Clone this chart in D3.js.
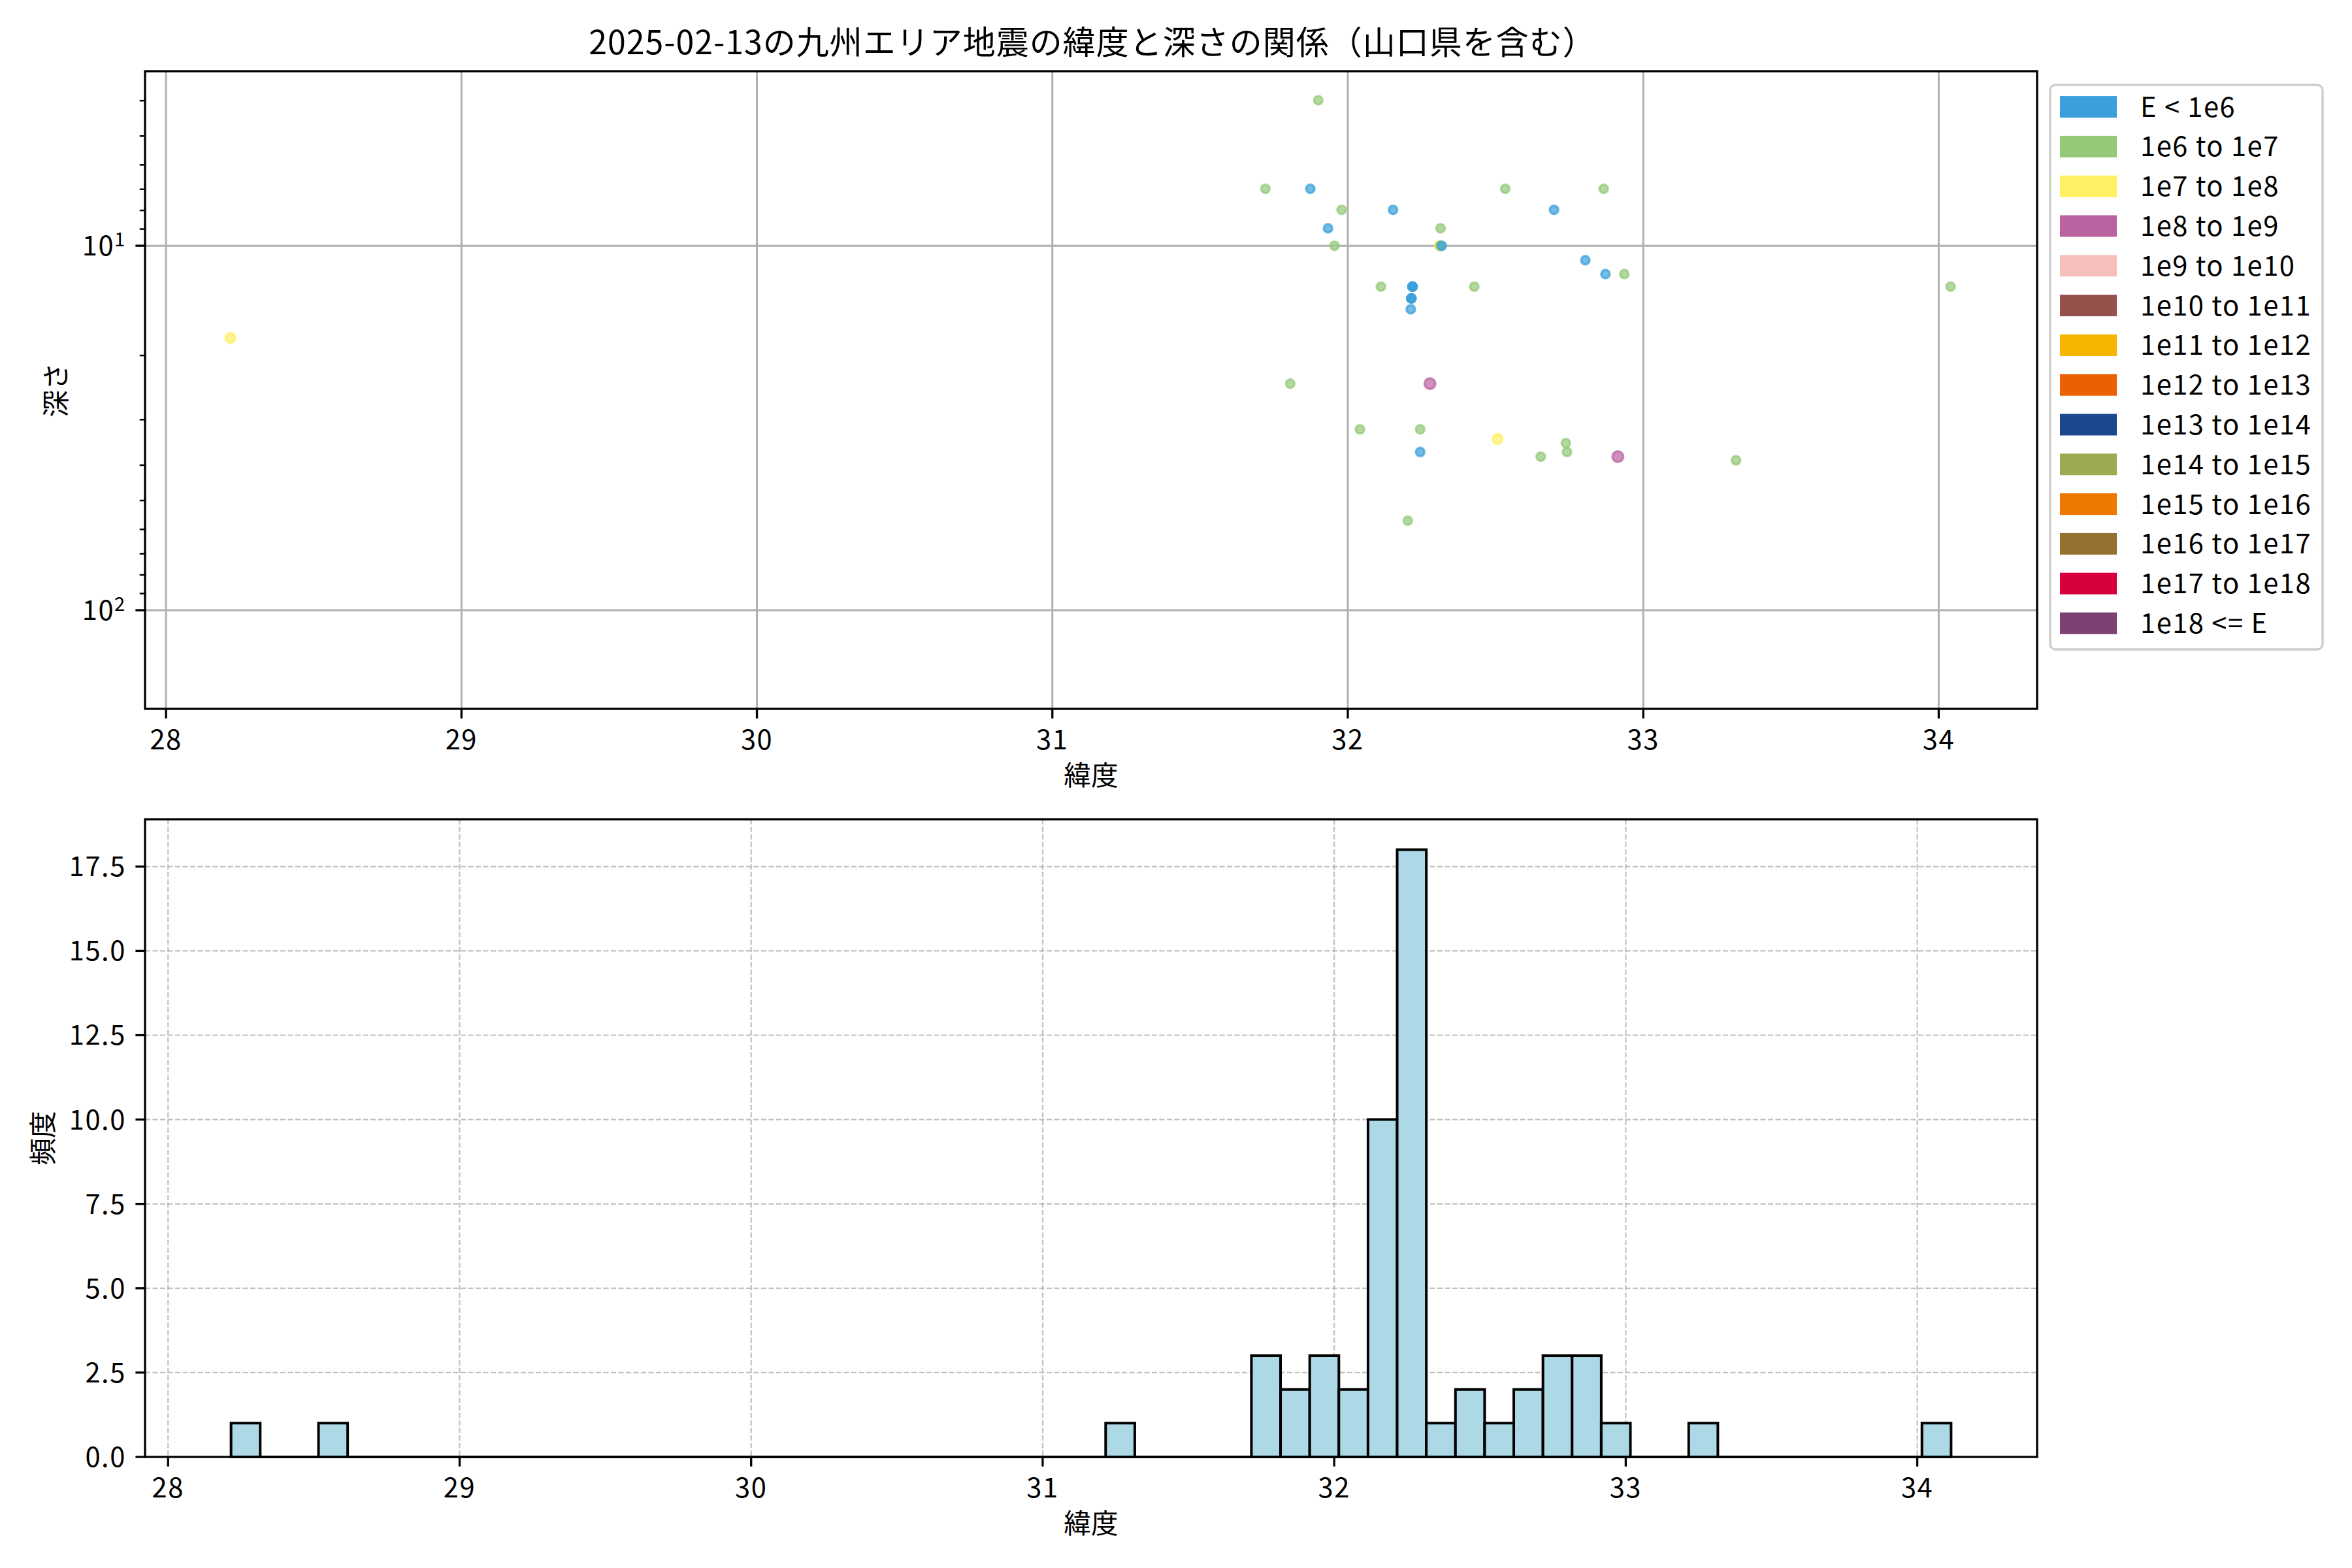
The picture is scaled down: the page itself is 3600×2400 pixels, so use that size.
<!DOCTYPE html>
<html><head><meta charset="utf-8">
<script src="https://cdn.jsdelivr.net/npm/d3@7"></script>
<style>
body{margin:0;background:#fff}
text{font-family:"Noto Sans CJK JP","Noto Sans",sans-serif;fill:#000}
</style>
</head><body>
<svg id="chart" width="3600" height="2400" xmlns="http://www.w3.org/2000/svg"></svg>
<script>
// ---------------- data ----------------
const titleText = "2025-02-13の九州エリア地震の緯度と深さの関係（山口県を含む）";
const xLabelText = "緯度";
const depthLabelText = "深さ";
const freqLabelText = "頻度";

const energyLabels = ["E < 1e6","1e6 to 1e7","1e7 to 1e8","1e8 to 1e9","1e9 to 1e10","1e10 to 1e11",
  "1e11 to 1e12","1e12 to 1e13","1e13 to 1e14","1e14 to 1e15","1e15 to 1e16","1e16 to 1e17",
  "1e17 to 1e18","1e18 <= E"];
const energyColors = ["#3A9FDA","#93C977","#FFF064","#BB62A0","#F6BFBC","#95514C",
  "#F6B500","#EB6000","#1B478F","#9BAC50","#EE7800","#95702E","#D7003A","#7A4171"];

// scatter: latitude, depth (km), energy class index
const quakeLat = [31.900,31.721,31.873,32.533,32.866,31.979,32.153,32.698,31.933,32.314,
  31.955,32.311,32.313,32.318,32.804,32.872,32.936,32.112,32.219,32.219,32.219,32.428,34.040,
  32.215,32.215,32.215,32.213,31.805,32.278,32.041,32.245,32.507,32.738,32.245,32.653,32.742,
  32.914,33.314,32.203,28.218];
const quakeDepth = [3.99,6.98,6.98,6.98,6.98,7.97,7.97,7.97,8.96,8.96,
  10.0,10.0,10.0,10.0,10.96,11.96,11.96,12.95,12.95,12.95,12.95,12.95,12.95,
  13.95,13.95,13.95,14.94,23.9,23.9,31.9,31.9,33.9,34.8,36.8,37.9,36.8,
  37.9,38.8,56.8,17.9];
const quakeClass = [1,1,0,1,1,1,0,0,0,1,
  1,2,1,0,0,0,1,1,0,0,0,1,1,
  0,0,0,0,1,3,1,1,2,1,0,1,1,
  3,1,1,2];

const latTicks = [28,29,30,31,32,33,34];
const latDomainTop = [27.929, 34.333];
const depthDomain = [3.32, 186.5];
const depthMajorTicks = [10,100];
const depthMinorTicks = [4,5,6,7,8,9,20,30,40,50,60,70,80,90];
const freqTicks = [0,2.5,5,7.5,10,12.5,15,17.5];

const histBinStart = 28.216;
const histBinWidth = 0.1;
const histCounts = [1,0,0,1,0,0,0,0,0,0,
  0,0,0,0,0,0,0,0,0,0,
  0,0,0,0,0,0,0,0,0,0,
  1,0,0,0,0,3,2,3,2,10,
  18,1,2,1,2,3,3,1,0,0,
  1,0,0,0,0,0,0,0,1];

// ---------------- layout ----------------
const FS = 41.7;
const LS = 1.5;
const L = 222, R = 3118;
const top1 = 109, bot1 = 1085;
const top2 = 1254, bot2 = 2230;
const tickLen = 14.6, tickPad = 14.6;
const spineW = 3.3;

const svg = d3.select("#chart");
svg.append("rect").attr("width",3600).attr("height",2400).attr("fill","#fff");

// title
svg.append("text").attr("x",(L+R)/2 + 2).attr("y",83).attr("text-anchor","middle")
  .attr("font-size",50).attr("letter-spacing",1).text(titleText);

// ================= TOP: scatter =================
const x1 = d3.scaleLinear().domain(latDomainTop).range([L,R]);
const y1 = d3.scaleLog().domain(depthDomain).range([top1,bot1]);

const g1 = svg.append("g");
g1.selectAll(".vg").data(latTicks).join("line")
  .attr("x1",d=>x1(d)).attr("x2",d=>x1(d)).attr("y1",top1).attr("y2",bot1)
  .attr("stroke","#b0b0b0").attr("stroke-width",3);
g1.selectAll(".hg").data(depthMajorTicks).join("line")
  .attr("x1",L).attr("x2",R).attr("y1",d=>y1(d)).attr("y2",d=>y1(d))
  .attr("stroke","#b0b0b0").attr("stroke-width",3);

svg.append("clipPath").attr("id","clip1").append("rect")
  .attr("x",L).attr("y",top1).attr("width",R-L).attr("height",bot1-top1);
const radius = [6.5,6.5,7.5,8.3,8.3,8.3,8.3,8.3,8.3,8.3,8.3,8.3,8.3,8.3];
const pts = quakeLat.map((v,i)=>({lat:v,depth:quakeDepth[i],cls:quakeClass[i]}));
g1.append("g").attr("clip-path","url(#clip1)").selectAll("circle").data(pts).join("circle")
  .attr("cx",d=>x1(d.lat)).attr("cy",d=>y1(d.depth)).attr("r",d=>radius[d.cls])
  .attr("fill",d=>energyColors[d.cls]).attr("fill-opacity",0.7)
  .attr("stroke",d=>energyColors[d.cls]).attr("stroke-opacity",0.7).attr("stroke-width",3.5);

g1.selectAll(".xt").data(latTicks).join("line")
  .attr("x1",d=>x1(d)).attr("x2",d=>x1(d)).attr("y1",bot1).attr("y2",bot1+tickLen)
  .attr("stroke","#000").attr("stroke-width",spineW);
g1.selectAll(".xl").data(latTicks).join("text")
  .attr("x",d=>x1(d)).attr("y",bot1+62).attr("text-anchor","middle").attr("font-size",FS)
  .attr("letter-spacing",LS).text(d=>d);
g1.selectAll(".yt").data(depthMajorTicks).join("line")
  .attr("x1",L-tickLen).attr("x2",L).attr("y1",d=>y1(d)).attr("y2",d=>y1(d))
  .attr("stroke","#000").attr("stroke-width",spineW);
g1.selectAll(".ymt").data(depthMinorTicks).join("line")
  .attr("x1",L-8.3).attr("x2",L).attr("y1",d=>y1(d)).attr("y2",d=>y1(d))
  .attr("stroke","#000").attr("stroke-width",2.5);
const ylab = g1.selectAll(".yl").data(depthMajorTicks).join("text")
  .attr("x",L-tickLen-tickPad).attr("y",d=>y1(d)+15).attr("text-anchor","end").attr("font-size",FS)
  .attr("letter-spacing",LS);
ylab.append("tspan").text("10");
ylab.append("tspan").attr("font-size",FS*0.7).attr("dy",-14).text(d=>Math.round(Math.log10(d)));

g1.append("rect").attr("x",L).attr("y",top1).attr("width",R-L).attr("height",bot1-top1)
  .attr("fill","none").attr("stroke","#000").attr("stroke-width",spineW);

svg.append("text").attr("x",(L+R)/2).attr("y",1202).attr("text-anchor","middle")
  .attr("font-size",FS).text(xLabelText);
svg.append("text").attr("transform",`translate(83,${(top1+bot1)/2}) rotate(-90)`)
  .attr("text-anchor","middle").attr("dominant-baseline","central").attr("font-size",FS).text(depthLabelText);

// legend
const lg = svg.append("g");
lg.append("rect").attr("x",3138).attr("y",130).attr("width",417).attr("height",864).attr("rx",8)
  .attr("fill","#fff").attr("fill-opacity",0.8).attr("stroke","#cccccc").attr("stroke-width",3.3);
const rows = lg.selectAll(".row").data(energyLabels).join("g")
  .attr("transform",(d,i)=>`translate(0,${163.6+i*60.8})`);
rows.append("rect").attr("x",3153).attr("y",-16.5).attr("width",87).attr("height",33)
  .attr("fill",(d,i)=>energyColors[i]);
rows.append("text").attr("x",3276).attr("y",15).attr("font-size",FS).attr("letter-spacing",LS).text(d=>d);

// ================= BOTTOM: histogram =================
const hLo = histBinStart, hHi = histBinStart + histCounts.length*histBinWidth;
const hPad = 0.05*(hHi-hLo);
const x2 = d3.scaleLinear().domain([hLo-hPad, hHi+hPad]).range([L,R]);
const y2 = d3.scaleLinear().domain([0, d3.max(histCounts)*1.05]).range([bot2,top2]);
const g2 = svg.append("g");

g2.selectAll(".vg").data(latTicks).join("line")
  .attr("x1",d=>x2(d)).attr("x2",d=>x2(d)).attr("y1",top2).attr("y2",bot2)
  .attr("stroke","#b0b0b0").attr("stroke-opacity",0.8).attr("stroke-width",2.2).attr("stroke-dasharray","8,3.5");
g2.selectAll(".hg").data(freqTicks).join("line")
  .attr("x1",L).attr("x2",R).attr("y1",d=>y2(d)).attr("y2",d=>y2(d))
  .attr("stroke","#b0b0b0").attr("stroke-opacity",0.8).attr("stroke-width",2.2).attr("stroke-dasharray","8,3.5");

const bins = histCounts.map((c,i)=>({x0:histBinStart+i*histBinWidth, x1:histBinStart+(i+1)*histBinWidth, c}));
g2.selectAll("path.bar").data(bins).join("path").attr("class","bar")
  .attr("d",d=>{const a=x2(d.x0),b=x2(d.x1),y0=y2(0),yy=y2(d.c);return `M${a},${y0}V${yy}H${b}V${y0}Z`;})
  .attr("fill","#add8e6").attr("stroke","#000").attr("stroke-width",4).attr("stroke-linejoin","miter");

g2.selectAll(".xt").data(latTicks).join("line")
  .attr("x1",d=>x2(d)).attr("x2",d=>x2(d)).attr("y1",bot2).attr("y2",bot2+tickLen)
  .attr("stroke","#000").attr("stroke-width",spineW);
g2.selectAll(".xl").data(latTicks).join("text")
  .attr("x",d=>x2(d)).attr("y",bot2+62).attr("text-anchor","middle").attr("font-size",FS)
  .attr("letter-spacing",LS).text(d=>d);
g2.selectAll(".yt").data(freqTicks).join("line")
  .attr("x1",L-tickLen).attr("x2",L).attr("y1",d=>y2(d)).attr("y2",d=>y2(d))
  .attr("stroke","#000").attr("stroke-width",spineW);
g2.selectAll(".yl").data(freqTicks).join("text")
  .attr("x",L-tickLen-tickPad).attr("y",d=>y2(d)+15).attr("text-anchor","end").attr("font-size",FS)
  .attr("letter-spacing",LS).text(d=>d3.format(".1f")(d));

g2.append("rect").attr("x",L).attr("y",top2).attr("width",R-L).attr("height",bot2-top2)
  .attr("fill","none").attr("stroke","#000").attr("stroke-width",spineW);

svg.append("text").attr("x",(L+R)/2).attr("y",2347).attr("text-anchor","middle")
  .attr("font-size",FS).text(xLabelText);
svg.append("text").attr("transform",`translate(63,${(top2+bot2)/2}) rotate(-90)`)
  .attr("text-anchor","middle").attr("dominant-baseline","central").attr("font-size",FS).text(freqLabelText);
</script>
</body></html>
